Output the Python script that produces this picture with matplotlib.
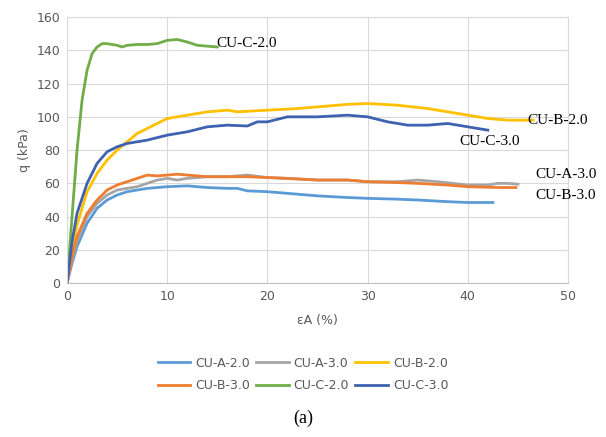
import matplotlib.pyplot as plt
import numpy as np

# Dehnung (%) und Deviatorspannung q (kPa)
a20_x = [0, 0.5, 1, 2, 3, 4, 5, 6, 7, 8, 9, 10, 12, 14, 16, 17, 18, 20, 22, 25, 28, 30, 33, 35, 38, 40, 42.5]
a20_q = [0, 12, 22, 36, 45, 50, 53, 55, 56, 57, 57.5, 58, 58.5, 57.5, 57, 57, 55.5, 55, 54, 52.5, 51.5, 51, 50.5, 50, 49, 48.5, 48.5]

a30_x = [0, 0.5, 1, 2, 3, 4, 5, 6, 7, 8, 9, 10, 11, 12, 14, 16, 18, 20, 22, 25, 28, 30, 33, 35, 37, 40, 42, 43, 44, 45]
a30_q = [0, 14, 25, 40, 48, 53, 56, 57, 58, 60, 62, 63, 62, 63, 64, 64, 65, 63.5, 63, 62, 62, 61, 61, 62, 61, 59, 59, 60, 60, 59.5]

b20_x = [0, 0.5, 1, 2, 3, 4, 5, 6, 7, 8, 9, 10, 12, 14, 16, 17, 20, 23, 25, 28, 30, 33, 36, 38, 40, 42, 44, 45, 46.5]
b20_q = [0, 20, 35, 55, 66, 74, 80, 85, 90, 93, 96, 99, 101, 103, 104, 103, 104, 105, 106, 107.5, 108, 107, 105, 103, 101, 99, 98, 98, 98]

b30_x = [0, 0.5, 1, 2, 3, 4, 5, 6, 7, 8, 9, 10, 11, 12, 14, 16, 18, 20, 22, 25, 28, 30, 33, 35, 38, 40, 43, 44.8]
b30_q = [0, 16, 28, 42, 50, 56, 59, 61, 63, 65, 64.5, 65, 65.5, 65, 64, 64, 64, 63.5, 63, 62, 62, 61, 60.5, 60, 59, 58, 57.5, 57.5]

c20_x = [0, 0.5, 1, 1.5, 2, 2.5, 3, 3.5, 4, 5, 5.5, 6, 7, 8, 9, 10, 11, 12, 13, 14, 15]
c20_q = [0, 40, 80, 110, 128, 138, 142, 144, 144, 143, 142, 143, 143.5, 143.5, 144, 146, 146.5, 145, 143, 142.5, 142]

c30_x = [0, 0.5, 1, 2, 3, 4, 5, 6, 8, 10, 12, 14, 16, 18, 19, 20, 22, 25, 28, 30, 32, 34, 36, 38, 40, 42]
c30_q = [0, 25, 42, 60, 72, 79, 82, 84, 86, 89, 91, 94, 95, 94.5, 97, 97, 100, 100, 101, 100, 97, 95, 95, 96, 94, 92]

labels = ['CU-A-2.0', 'CU-A-3.0', 'CU-B-2.0', 'CU-B-3.0', 'CU-C-2.0', 'CU-C-3.0']
colors = ['#5B9BD5', '#A5A5A5', '#FFC000', '#ED7D31', '#70AD47', '#3F62B0']
series = [(a20_x, a20_q), (a30_x, a30_q), (b20_x, b20_q),
          (b30_x, b30_q), (c20_x, c20_q), (c30_x, c30_q)]

fig = plt.figure(figsize=(6.06, 4.37), dpi=100)
ax = fig.add_axes([0.1106, 0.352, 0.8267, 0.609])

handles = []
for (x, q), lab, col in zip(series, labels, colors):
    h, = ax.plot(x, q, color=col, lw=2, label=lab)
    handles.append(h)

ax.set_xlim(0, 50)
ax.set_ylim(0, 160)
ax.set_xticks(np.arange(0, 51, 10))
ax.set_yticks(np.arange(0, 161, 20))
ax.grid(color='#D9D9D9', lw=0.8)
ax.set_axisbelow(True)
ax.tick_params(length=0, labelsize=9, labelcolor='#595959', pad=5)
for s in ax.spines.values():
    s.set_color('#D9D9D9')
ax.spines['bottom'].set_color('#BFBFBF')

ax.set_xlabel('εA (%)', fontsize=9, color='#595959', labelpad=8)
ax.set_ylabel('q (kPa)', fontsize=9, color='#595959', labelpad=4)

# Beschriftungen an den Kurven
serif = 'Liberation Serif'
ax.text(14.9, 143.8, 'CU-C-2.0', fontsize=11, family=serif, va='center')
ax.text(45.9, 98, 'CU-B-2.0', fontsize=11, family=serif, va='center')
ax.text(39.2, 85.4, 'CU-C-3.0', fontsize=11, family=serif, va='center')
ax.text(46.7, 65.6, 'CU-A-3.0', fontsize=11, family=serif, va='center')
ax.text(46.7, 53, 'CU-B-3.0', fontsize=11, family=serif, va='center')

# Legende zeilenweise wie im Original
order = [0, 3, 1, 4, 2, 5]
leg = fig.legend([handles[i] for i in order], [labels[i] for i in order],
                 ncol=3, loc='center', bbox_to_anchor=(0.5, 0.143),
                 frameon=False, fontsize=9, handlelength=2.6,
                 columnspacing=0.5, handletextpad=0.4, labelspacing=0.75)
for t in leg.get_texts():
    t.set_color('#595959')

fig.text(0.5, 0.043, '(a)', ha='center', va='center', fontsize=13, family=serif)

fig.savefig('out.png', dpi=100)
